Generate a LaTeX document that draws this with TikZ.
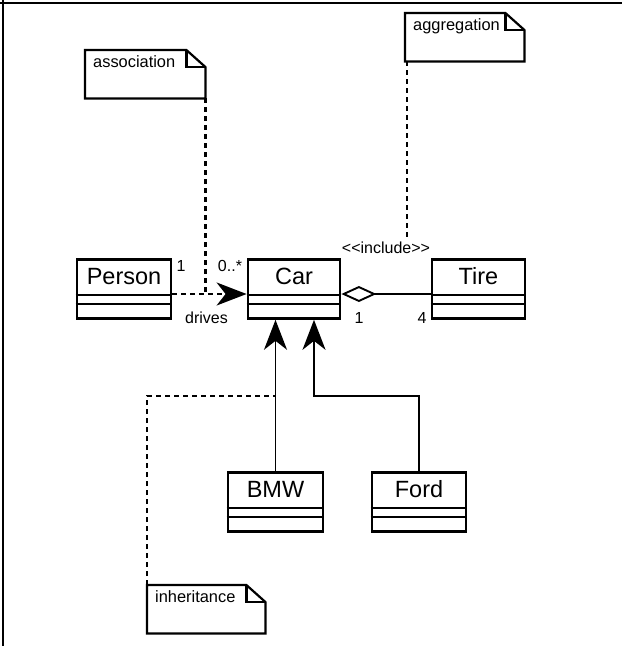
\documentclass[tikz,border=0pt]{standalone}
\usepackage{fontspec}
\setmainfont{Liberation Sans}
\usetikzlibrary{arrows.meta,calc}
\tikzset{
  classbox/.style={draw, line width=2.8pt, minimum height=59pt, inner sep=0pt},
  divider/.style={line width=1.2pt},
  clsname/.style={font=\fontsize{23.5}{27}\selectfont, inner sep=0pt},
  notebox/.style={minimum height=48pt, inner sep=0pt},
  noteline/.style={line width=2.2pt, line join=miter},
  notetext/.style={font=\fontsize{16.4}{19}\selectfont, inner sep=0pt},
  lbl/.style={font=\fontsize{16}{19}\selectfont, inner sep=0pt},
  dashline/.style={line width=2.2pt, dash pattern=on 5pt off 4pt},
  solidline/.style={line width=1.9pt},
  gentip/.style={-{Stealth[length=30pt,width=23pt,inset=9pt]}},
  frameline/.style={line width=2.4pt}
}
\newcommand\umlcls[5]{%
  \node[classbox, minimum width=#4pt, anchor=north] (#1) at (#2,#3) {};
  \draw[divider] ($(#1.north west)+(0,37)$) -- ($(#1.north east)+(0,37)$);
  \draw[divider] ($(#1.north west)+(0,46)$) -- ($(#1.north east)+(0,46)$);
  \node[clsname] (#1-name) at ($(#1.north)+(0,18.5)$) {#5};
}
\newcommand\umlnote[5]{%
  \node[notebox, minimum width=#4pt, anchor=north west] (#1) at (#2,#3) {};
  \draw[noteline] (#1.north west) -- ($(#1.north east)+(-19,0)$) -- ($(#1.north east)+(0,17)$) -- (#1.south east) -- (#1.south west) -- cycle;
  \draw[noteline] ($(#1.north east)+(-19,0)$) -- ($(#1.north east)+(-19,17)$) -- ($(#1.north east)+(0,17)$);
  \node[notetext, anchor=base west] (#1-text) at ($(#1.north west)+(8,17)$) {#5};
}
\begin{document}
\begin{tikzpicture}[x=1pt,y=-1pt]
\useasboundingbox (0,0) rectangle (622,646);
% frame (top and left only)
\coordinate (f0) at (0,2.8);
\coordinate (f1) at (622,2.8);
\coordinate (f2) at (2.8,0);
\coordinate (f3) at (2.8,646);
\draw[frameline] (f0) -- (f1);
\draw[frameline] (f2) -- (f3);

% classes
\umlcls{person}{124}{258}{94}{Person}
\umlcls{car}{294}{258}{92}{Car}
\umlcls{tire}{478.5}{258}{93}{Tire}
\umlcls{bmw}{275.5}{471}{95}{BMW}
\umlcls{ford}{419}{471}{94}{Ford}

% notes
\umlnote{assocnote}{85}{50}{120}{association}
\umlnote{aggnote}{405}{13}{119}{aggregation}
\umlnote{inhnote}{147}{585}{118}{inheritance}

% helper coordinates
\coordinate (assocy) at (0,294);
\coordinate (aggy) at (0,294);
\coordinate (bend) at (314,396);
\coordinate (inclend) at (407,237);

% association
\draw[dashline, gentip] (person.east |- assocy) -- (car.west |- assocy);
\draw[dashline] (assocnote.south east) -- (assocnote.south east |- assocy);
\node[lbl, anchor=base] (m1) at (181,271) {1};
\node[lbl, anchor=base] (m0) at (230,271) {0..*};
\node[lbl, anchor=base] (drv) at (206.5,323) {drives};

% aggregation
\draw[solidline, {Diamond[open,length=35pt,width=16pt,line width=1.9pt]}-] (car.east |- aggy) -- (tire.west |- aggy);
\node[lbl, anchor=base] (a1) at (359,323) {1};
\node[lbl, anchor=base] (a4) at (422,323) {4};
\node[lbl, anchor=base] (incl) at (386,253.5) {<\kern0pt<\kern0pt include>\kern0pt>};
\draw[dashline] ($(aggnote.south west)+(2,0)$) -- (inclend);

% inheritance
\draw[solidline, gentip] (bmw.north) -- (car.south -| bmw.north);
\draw[solidline, gentip] (ford.north) -- (ford.north |- bend) -- (bend) -- (car.south -| bend);
\draw[dashline] (inhnote.north west) -- (inhnote.north west |- bend) -- (bmw.north |- bend);
\end{tikzpicture}
\end{document}
